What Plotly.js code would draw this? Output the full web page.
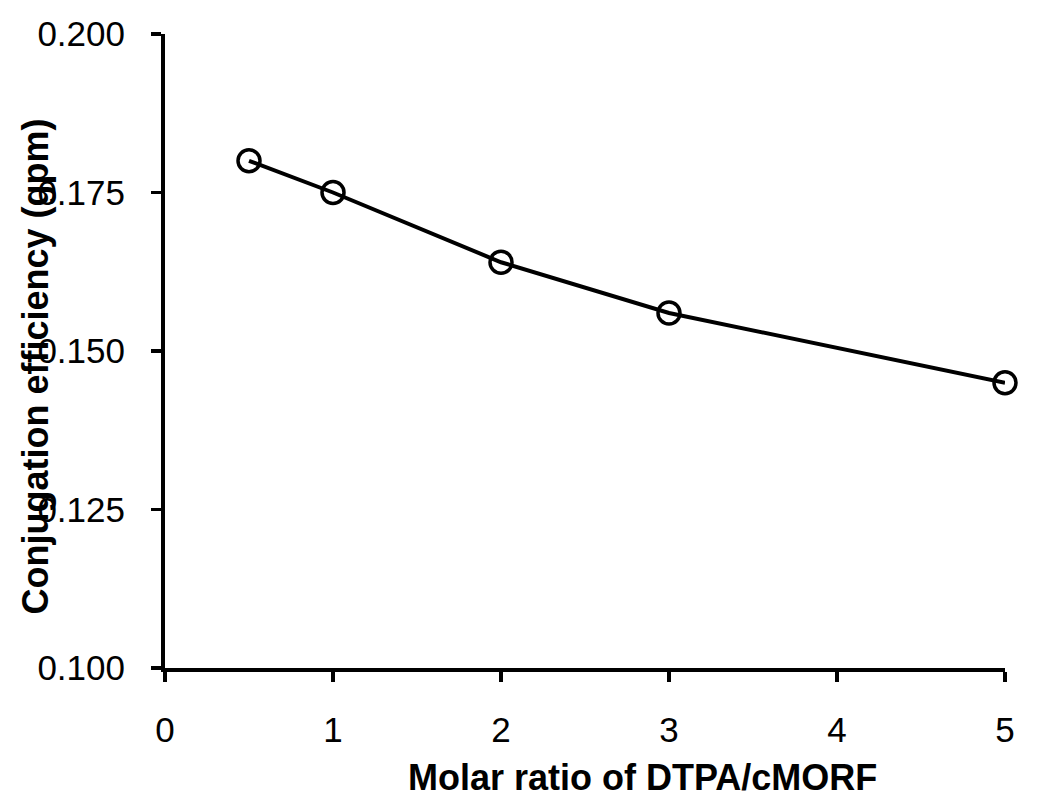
<!DOCTYPE html>
<html>
<head>
<meta charset="utf-8">
<script src="https://cdn.plot.ly/plotly-3.0.1.min.js"></script>
<style>html,body{margin:0;padding:0;background:#fff;}#chart{width:1050px;height:807px;}</style>
</head>
<body>
<div id="chart"></div>
<script>
const molarRatio = [0.5, 1, 2, 3, 5];
const efficiency = [0.180, 0.175, 0.164, 0.156, 0.145];
const xTicks = [0, 1, 2, 3, 4, 5];
const yTicks = [0.100, 0.125, 0.150, 0.175, 0.200];
const yTickText = ['0.100', '0.125', '0.150', '0.175', '0.200'];
const xTitle = 'Molar ratio of DTPA/cMORF';
const yTitle = 'Conjugation efficiency (gpm)';

const trace = {
  x: molarRatio,
  y: efficiency,
  type: 'scatter',
  mode: 'lines+markers',
  line: {color: '#000', width: 4},
  marker: {symbol: 'circle-open', size: 22, color: '#000', line: {color: '#000', width: 3.5}},
  cliponaxis: false,
  showlegend: false
};

const layout = {
  width: 1050,
  height: 807,
  paper_bgcolor: '#fff',
  plot_bgcolor: '#fff',
  margin: {l: 165, r: 45, t: 34, b: 139},
  font: {family: 'Liberation Sans, Arial, sans-serif', color: '#000'},
  xaxis: {
    range: [0, 5],
    tickvals: xTicks,
    ticks: 'outside',
    ticklen: 10,
    tickwidth: 3.5,
    tickcolor: '#000',
    showline: true,
    linewidth: 4,
    linecolor: '#000',
    showgrid: false,
    zeroline: false,
    ticklabelstandoff: 18,
    tickfont: {size: 35, family: 'Liberation Sans, Arial, sans-serif'},
    automargin: false
  },
  yaxis: {
    range: [0.1, 0.2],
    tickvals: yTicks,
    ticktext: yTickText,
    ticks: 'outside',
    ticklen: 10,
    tickwidth: 3.5,
    tickcolor: '#000',
    showline: true,
    linewidth: 4,
    linecolor: '#000',
    showgrid: false,
    zeroline: false,
    ticklabelstandoff: 19,
    tickfont: {size: 35, family: 'Liberation Sans, Arial, sans-serif'},
    automargin: false
  },
  annotations: [{
    text: '<b>' + yTitle + '</b>',
    xref: 'paper', yref: 'paper',
    x: -0.154, y: 0.475,
    xanchor: 'center', yanchor: 'middle',
    textangle: -90,
    showarrow: false,
    font: {size: 36, family: 'Liberation Sans, Arial, sans-serif', color: '#000'}
  }, {
    text: '<b>' + xTitle + '</b>',
    xref: 'paper', yref: 'paper',
    x: 0.568, y: -0.1735,
    xanchor: 'center', yanchor: 'middle',
    showarrow: false,
    font: {size: 36, family: 'Liberation Sans, Arial, sans-serif', color: '#000'}
  }]
};

Plotly.newPlot('chart', [trace], layout, {displayModeBar: false, staticPlot: true});
</script>
</body>
</html>
